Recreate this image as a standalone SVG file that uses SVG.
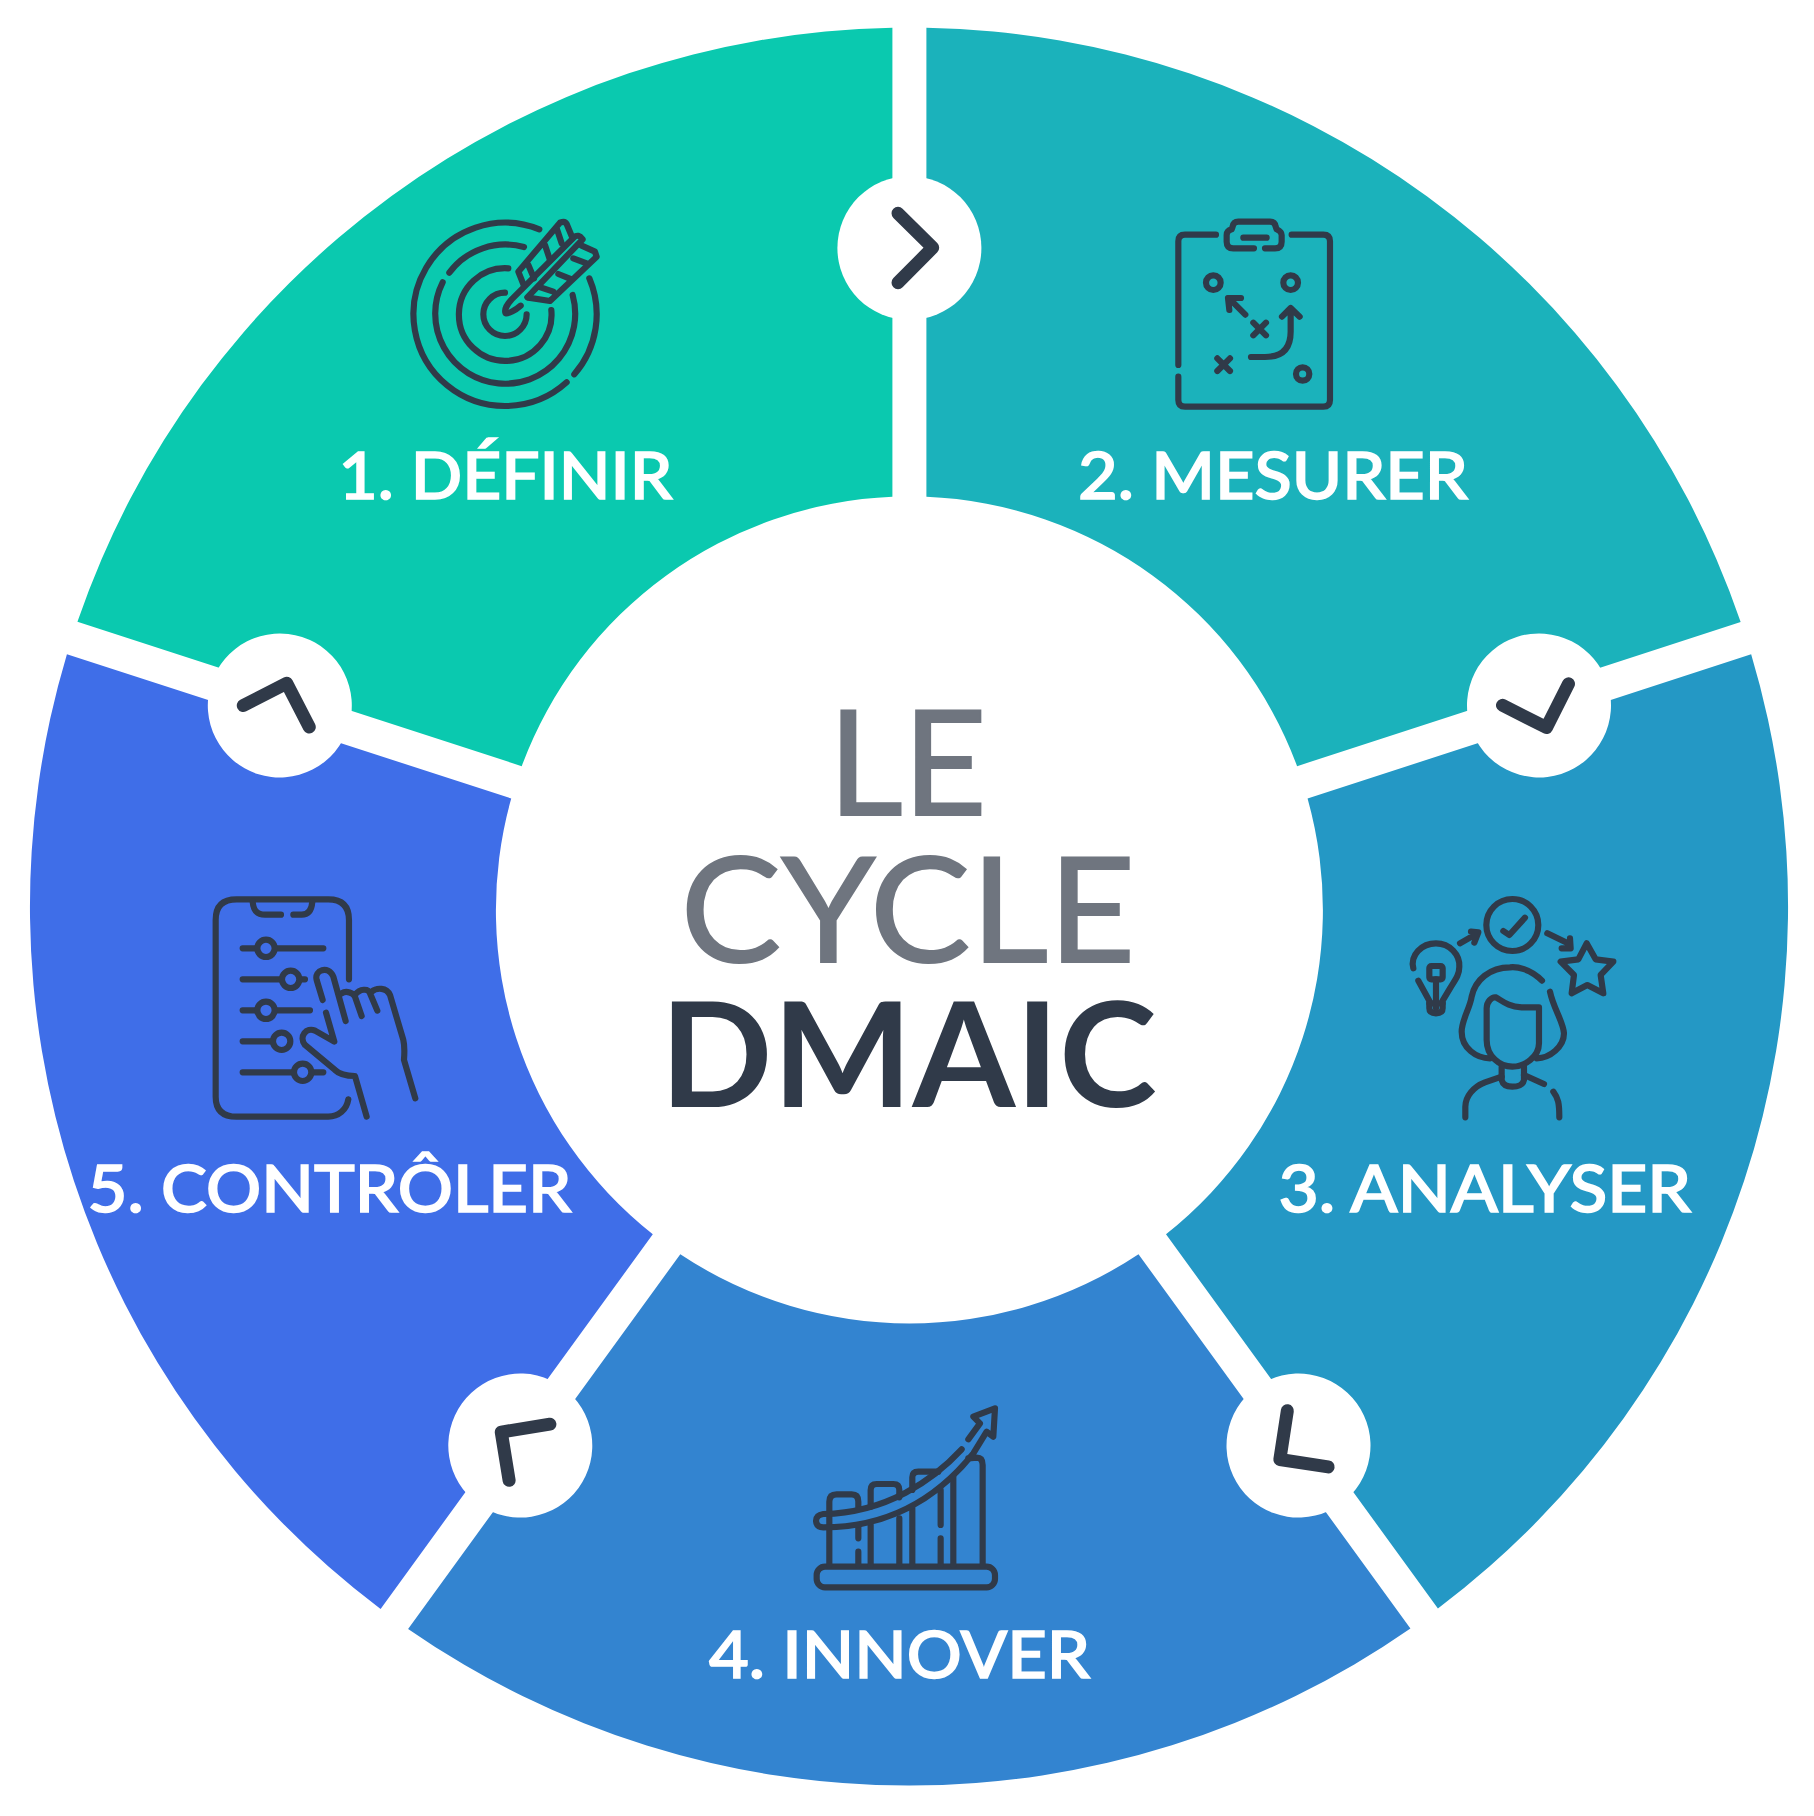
<svg xmlns="http://www.w3.org/2000/svg" width="1814" height="1816" viewBox="0 0 1814 1816">
<style>
.ic{fill:none;stroke:#303a49;stroke-width:18.5;stroke-linecap:round;stroke-linejoin:round}
.lb{font-family:"Lato","Liberation Sans",sans-serif;font-size:66px;font-weight:500;fill:#fff;stroke:#fff;stroke-width:1.6}
.t1{font-family:"Lato","Liberation Sans",sans-serif;font-size:145px;font-weight:400;fill:#6f757f;stroke:#6f757f;stroke-width:1.8}
.t2{font-family:"Lato","Liberation Sans",sans-serif;font-size:145px;font-weight:700;fill:#303a49}
.hub{fill:#fff}
.chev{fill:none;stroke:#303a49;stroke-width:13;stroke-linecap:round;stroke-linejoin:round}
</style>
<defs>
<g id="link"><circle class="hub" cx="909.4" cy="248" r="72"/><path class="chev" d="M898,213.3L932.7,247.7L898,282.7"/></g>
</defs>
<rect width="1814" height="1816" fill="#fff"/>
<g id="step-1">
<path fill="#0ac9af" d="M77.43,621.8A879,879 0 0 1 892.4,27.66L892.4,496.85A413.5,413.5 0 0 0 521.72,766.16Z"/>
<g class="ic" transform="translate(390,200) scale(.3333)">
<path d="M448,88A275,275 0 1 0 530,547M553,523A275,275 0 0 0 598,235"/>
<path d="M402,141A210,210 0 0 0 178,218M158,247A210,210 0 1 0 548,285"/>
<path d="M355,205A139,139 0 1 0 484,330"/>
<path d="M345,278A65,65 0 1 0 410,343"/>
<path d="M392,317C375,332 355,342 347,340C342,330 352,312 365,298L552,112Q565,100 578,118L412,292"/>
<path d="M402,258L385,215L510,68Q525,62 530,72L545,108M415,195L432,235M465,135L480,180M500,85L515,130"/>
<path d="M415,293L480,303L620,170L615,155L575,137M445,260L490,275M505,222L545,238M550,175L590,190"/>
</g>
<text class="lb" x="338.5" y="499" textLength="334" lengthAdjust="spacingAndGlyphs">1. DÉFINIR</text>
</g>
<g id="step-2">
<path fill="#1bb2bb" d="M926.4,27.66A879,879 0 0 1 1740.65,622.03L1297.08,766.16A413.5,413.5 0 0 0 926.4,496.85Z"/>
<g class="ic" transform="translate(1150,200) scale(.3333)">
<path d="M198,104L105,104Q85,104 85,124L85,495M85,530L85,600Q85,620 105,620L520,620Q540,620 540,600L540,124Q540,104 520,104L425,104"/>
<path d="M312,145L250,145Q230,145 230,125L230,105Q230,92 245,88L248,80Q250,65 265,65L360,65Q375,65 377,80L380,88Q395,95 395,105L395,125Q395,145 375,145L345,145M280,113L350,113"/>
<circle cx="190" cy="248" r="22"/><circle cx="422" cy="248" r="22"/><circle cx="458" cy="522" r="20"/>
<path d="M286,344L238,296M238,330L234,294L273,294"/>
<path d="M310,368L348,406M348,368L310,406M202,475L240,513M240,475L202,513"/>
<path d="M303,471L345,471Q422,471 422,395L422,325M396,350L422,324L449,350"/>
</g>
<text class="lb" x="1078" y="499" textLength="390" lengthAdjust="spacingAndGlyphs">2. MESURER</text>
</g>
<g id="step-3">
<path fill="#2498c5" d="M1751.15,654.37A879,879 0 0 1 1437.92,1608.53L1166,1234.26A413.5,413.5 0 0 0 1307.58,798.5Z"/>
<g class="ic" transform="translate(1390,880) scale(.3333)">
<circle cx="367" cy="135" r="78"/>
<path d="M340,153L358,165L405,113"/>
<path d="M210,190L262,160M243,155L265,157L253,188M472,160L540,193M540,175L542,205L515,205"/>
<path d="M70,265C60,225 95,190 138,190C180,190 210,225 208,260C208,285 195,300 180,325L158,362L158,385Q158,400 138,400Q118,400 118,385L118,362L85,302"/>
<rect x="118" y="258" width="40" height="40" rx="6"/>
<path d="M138,298L138,385M118,370L158,370"/>
<path d="M456,302C420,265 380,260 360,262C300,262 255,300 245,350C240,385 215,420 215,455C215,505 260,535 300,535M480,335C490,385 520,425 522,460C522,500 480,535 440,535"/>
<path d="M290,480L290,385C290,365 305,350 318,352C340,365 355,380 395,382L447,382L447,490C447,530 405,560 367,560C330,560 290,530 290,480Z"/>
<path d="M335,560L335,600Q340,620 367,620Q398,620 402,600L402,560"/>
<path d="M335,590L285,607C250,620 226,650 226,680L226,712M402,585L462,612M490,635C505,655 508,670 508,712"/>
<path d="M590,190L617,238L670,245L632,285L640,340L592,315L545,340L552,285L512,245L565,238Z"/>
</g>
<text class="lb" x="1278.5" y="1212" textLength="412.5" lengthAdjust="spacingAndGlyphs">3. ANALYSER</text>
</g>
<g id="step-4">
<path fill="#3384d0" d="M1410.42,1628.51A879,879 0 0 1 408.1,1628.89L680.3,1254.24A413.5,413.5 0 0 0 1138.5,1254.24Z"/>
<g class="ic" transform="translate(800,1390) scale(.3333)">
<rect x="50" y="530" width="535" height="62" rx="25"/>
<path d="M88,525L88,335Q88,313 110,313L155,313Q175,313 175,335L175,350M175,405L175,445M175,485L175,525"/>
<path d="M212,525L212,405M212,350L212,300Q212,282 230,282L280,282Q298,282 298,300L298,322M298,385L298,525"/>
<path d="M337,525L337,355M337,300L337,262Q337,245 355,245L415,245M422,300L422,405M422,445L422,525M460,525L460,260"/>
<path d="M505,205L530,203Q548,203 548,225L548,525"/>
<path d="M485,178C400,270 260,368 70,372Q48,375 48,393Q50,412 70,412C250,412 400,340 520,190L560,125L580,140L585,55L520,80L540,100L505,148"/>
</g>
<text class="lb" x="709" y="1678" textLength="381" lengthAdjust="spacingAndGlyphs">4. INNOVER</text>
</g>
<g id="step-5">
<path fill="#3f6ee8" d="M380.6,1608.91A879,879 0 0 1 66.93,654.14L511.22,798.5A413.5,413.5 0 0 0 652.8,1234.26Z"/>
<g class="ic" transform="translate(200,880) scale(.3333)">
<path d="M447,298L447,120Q447,58 385,58L110,58Q47,58 47,120L47,650Q47,710 110,710L385,710C415,710 440,690 445,658"/>
<path d="M158,65C160,90 170,104 195,104L243,104M280,104L305,104C325,104 335,90 337,65"/>
<path d="M128,205L370,205M128,298L315,298M128,391L330,391M128,484L215,484M128,577L370,577"/>
<g fill="#3f6ee8"><circle cx="198" cy="205" r="26"/><circle cx="272" cy="298" r="26"/><circle cx="198" cy="391" r="26"/><circle cx="245" cy="484" r="26"/><circle cx="308" cy="577" r="26"/></g>
<path d="M368,360L350,300C342,270 385,255 400,290L437,423"/>
<path d="M425,340C440,330 460,340 465,350L485,408M465,345C480,325 505,325 510,340L532,392M515,335C530,322 560,322 570,345L610,480Q615,500 612,540L646,655"/>
<path d="M378,398L403,485L345,452C320,440 295,470 315,495L405,570C420,585 440,588 465,588L500,710"/>
</g>
<text class="lb" x="87.5" y="1212" textLength="484" lengthAdjust="spacingAndGlyphs">5. CONTRÔLER</text>
</g>
<g id="connectors">
<use href="#link"/>
<use href="#link" transform="rotate(72 909.4 910)"/>
<use href="#link" transform="rotate(144 909.4 910)"/>
<use href="#link" transform="rotate(216 909.4 910)"/>
<use href="#link" transform="rotate(288 909.4 910)"/>
</g>
<g id="center">
<text class="t1" x="828" y="815" textLength="159" lengthAdjust="spacingAndGlyphs">LE</text>
<text class="t1" x="680.5" y="961.5" textLength="455" lengthAdjust="spacingAndGlyphs">CYCLE</text>
<text class="t2" x="660" y="1107" textLength="497" lengthAdjust="spacingAndGlyphs">DMAIC</text>
</g>
</svg>
